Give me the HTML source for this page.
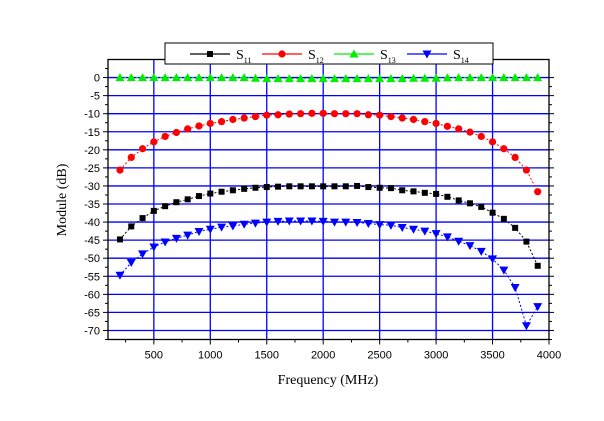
<!DOCTYPE html>
<html><head><meta charset="utf-8"><style>
body{margin:0;background:#fff;}
svg{display:block;}
.tk{font-family:"Liberation Sans",sans-serif;font-size:11px;fill:#000;}
.ax{font-family:"Liberation Serif",serif;font-size:14px;fill:#000;}
</style></head><body>
<svg id="chart" width="604" height="421" viewBox="0 0 604 421" xmlns="http://www.w3.org/2000/svg">
<g id="grid"></g>
<g id="axes"></g>
<g id="series"></g>
<text class="ax" x="328" y="384" text-anchor="middle">Frequency (MHz)</text>
<text class="ax" transform="translate(66,200) rotate(-90)" text-anchor="middle">Module (dB)</text>
<g id="legend"></g>
</svg>
<script>
const freqs=[200,300,400,500,600,700,800,900,1000,1100,1200,1300,1400,1500,1600,1700,1800,1900,2000,2100,2200,2300,2400,2500,2600,2700,2800,2900,3000,3100,3200,3300,3400,3500,3600,3700,3800,3900];
const s11=[-44.8,-41.2,-38.9,-36.9,-35.6,-34.5,-33.7,-32.8,-32.1,-31.6,-31.2,-30.8,-30.5,-30.3,-30.2,-30.1,-30.1,-30.1,-30.1,-30.1,-30.1,-30.0,-30.3,-30.5,-30.6,-31.2,-31.5,-31.9,-32.2,-33.0,-34.0,-34.8,-35.8,-37.4,-39.1,-41.6,-45.4,-52.1];
const s12=[-25.6,-22.1,-19.7,-17.8,-16.3,-15.2,-14.2,-13.4,-12.7,-12.2,-11.6,-11.2,-10.8,-10.4,-10.3,-10.1,-10.0,-9.9,-9.9,-10.0,-10.0,-10.0,-10.3,-10.4,-10.8,-11.2,-11.6,-12.2,-12.7,-13.5,-14.2,-15.1,-16.3,-17.8,-19.7,-22.1,-25.6,-31.6];
const s13=[0,0,0,0,0,0,0,0,0,0,0,0,-0.2,-0.3,-0.3,-0.3,-0.3,-0.3,-0.3,-0.3,-0.3,-0.3,-0.3,-0.3,-0.3,-0.3,-0.2,-0.2,-0.2,-0.1,0,0,0,0,0,0,0,0];
const s14=[-54.7,-51.2,-48.8,-46.9,-45.5,-44.5,-43.6,-42.6,-42.0,-41.4,-41.1,-40.6,-40.3,-40.0,-39.8,-39.7,-39.7,-39.7,-39.8,-40.0,-40.0,-40.1,-40.4,-40.7,-40.9,-41.5,-42.0,-42.5,-43.2,-44.1,-45.3,-46.5,-48.1,-50.2,-53.3,-58.1,-68.7,-63.4];
const xTicks=[500,1000,1500,2000,2500,3000,3500,4000];
const yTicks=[0,-5,-10,-15,-20,-25,-30,-35,-40,-45,-50,-55,-60,-65,-70];
const seriesNames=["11","12","13","14"];

const L=108,R=549,T=59.5,B=339.5,X0=94,X1=4000,Y0=5,Y1=-72.5;
const sx=f=>L+(f-X0)/(X1-X0)*(R-L);
const sy=v=>T+(Y0-v)/(Y0-Y1)*(B-T);
const NS="http://www.w3.org/2000/svg";
function mk(tag,attrs,parent){const e=document.createElementNS(NS,tag);for(const k in attrs)e.setAttribute(k,attrs[k]);parent.appendChild(e);return e;}
const grid=document.getElementById('grid'),axes=document.getElementById('axes'),ser=document.getElementById('series'),leg=document.getElementById('legend');
yTicks.forEach(v=>{const y=sy(v);
 const g=mk('line',{x1:L,x2:R,y1:y,y2:y,stroke:'#0000ff','stroke-width':1.3},grid);
 
 
 mk('line',{x1:L-5,x2:L,y1:y,y2:y,stroke:'#000'},axes);
 mk('line',{x1:R,x2:R+5,y1:y,y2:y,stroke:'#000'},axes);
 mk('line',{x1:L-3,x2:L,y1:y+sy(0)-sy(2.5)-0,y2:y+sy(0)-sy(2.5),stroke:'#000'},axes);
 mk('line',{x1:R,x2:R+3,y1:y+sy(0)-sy(2.5),y2:y+sy(0)-sy(2.5),stroke:'#000'},axes);
 const t=mk('text',{x:L-8,y:y+4,'text-anchor':'end',class:'tk'},axes);t.textContent=v;
 
 
});
mk('line',{x1:L-3,x2:L,y1:sy(2.5),y2:sy(2.5),stroke:'#000'},axes);
xTicks.forEach(f=>{const x=sx(f);
 if(f<4000){const g=mk('line',{x1:x,x2:x,y1:T,y2:B,stroke:'#0000ff','stroke-width':1.3},grid);
 
 }
 mk('line',{x1:x,x2:x,y1:B,y2:B+5,stroke:'#000'},axes);
 const xm=sx(f-250);mk('line',{x1:xm,x2:xm,y1:B,y2:B+3,stroke:'#000'},axes);
 const t=mk('text',{x:x,y:B+19,'text-anchor':'middle',class:'tk'},axes);t.textContent=f;
 
 
});
mk('rect',{x:L,y:T,width:R-L,height:B-T,fill:'none',stroke:'#000','stroke-width':1.3},axes);

function marker(type,x,y,col,p){
 if(type==='sq')return mk('rect',{x:x-3,y:y-3,width:6,height:6,fill:col},p);
 if(type==='ci')return mk('circle',{cx:x,cy:y,r:3.6,fill:col},p);
 if(type==='up')return mk('polygon',{points:`${x-4.5},${y+3.5} ${x+4.5},${y+3.5} ${x},${y-4.5}`,fill:col},p);
 return mk('polygon',{points:`${x-4.5},${y-3.5} ${x+4.5},${y-3.5} ${x},${y+4.5}`,fill:col},p);
}
const defs=[[s11,'#000','sq'],[s12,'#ff0000','ci'],[s13,'#00ee00','up'],[s14,'#0000ff','dn']];
defs.forEach(([vals,col,type],i)=>{
 const g=mk('g',{},ser);
 
 
 const pts=freqs.map((f,j)=>sx(f)+','+sy(vals[j])).join(' ');
 mk('polyline',{points:pts,fill:'none',stroke:col,'stroke-width':1,'stroke-dasharray':'2,2'},g);
 freqs.forEach((f,j)=>{const m=marker(type,sx(f),sy(vals[j]),col,g);
  
  });
});
// legend
mk('rect',{x:165,y:43,width:328,height:21,fill:'#fff',stroke:'#000','stroke-width':1},leg);
const lx=[190,262,334,407];
defs.forEach(([v,col,type],i)=>{
 const g=mk('g',{},leg);
 
 
 const x=lx[i];
 mk('line',{x1:x,x2:x+40,y1:54,y2:54,stroke:col,'stroke-width':1.2},g);
 marker(type,x+20,54,col,g);
 const t=mk('text',{x:x+46,y:59,class:'ax'},g);
 t.textContent='S';
 const s=mk('tspan',{'font-size':'8','dy':'4'},t);s.textContent=seriesNames[i];
});
</script>
</body></html>
